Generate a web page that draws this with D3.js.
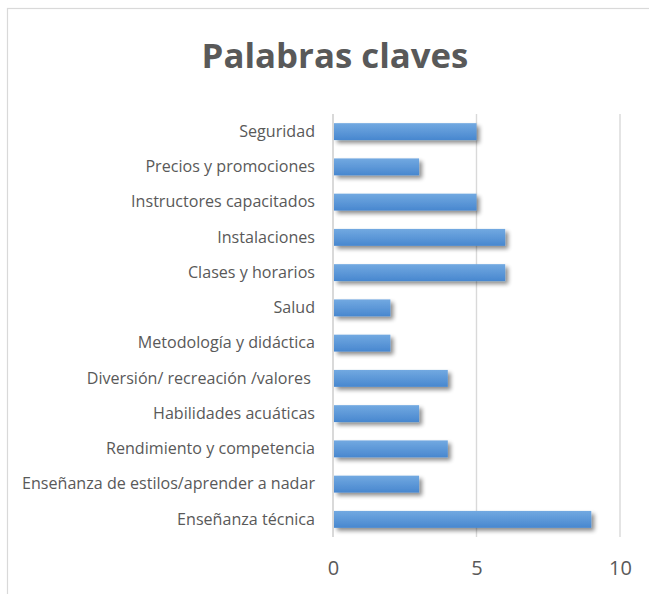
<!DOCTYPE html>
<html>
<head>
<meta charset="utf-8">
<script src="https://cdn.jsdelivr.net/npm/d3@7"></script>
<style>
  html, body { margin: 0; padding: 0; background: #fff; }
  svg { display: block; }
  .ylab text { white-space: pre; }
</style>
</head>
<body>
<svg id="chart" width="649" height="594"></svg>
<script>
const title = "Palabras claves";
const categories = [
  "Seguridad",
  "Precios y promociones",
  "Instructores capacitados",
  "Instalaciones",
  "Clases y horarios",
  "Salud",
  "Metodología y didáctica",
  "Diversión/ recreación /valores ",
  "Habilidades acuáticas",
  "Rendimiento y competencia",
  "Enseñanza de estilos/aprender a nadar",
  "Enseñanza técnica"
];
const values = [5, 3, 5, 6, 6, 2, 2, 4, 3, 4, 3, 9];
const xTicks = [0, 5, 10];

const svg = d3.select("#chart");
const W = 649, H = 594;
const margin = { left: 333, right: 29, top: 114, bottom: 57 };

svg.append("rect")
  .attr("x", 7.5).attr("y", 8.5)
  .attr("width", W + 20).attr("height", H + 20)
  .attr("fill", "#fff").attr("stroke", "#d9d9d9").attr("stroke-width", 1.2);

const defs = svg.append("defs");
const grad = defs.append("linearGradient").attr("id", "barGrad")
  .attr("x1", 0).attr("y1", 0).attr("x2", 0).attr("y2", 1);
grad.append("stop").attr("offset", "0%").attr("stop-color", "#72a9e1");
grad.append("stop").attr("offset", "100%").attr("stop-color", "#4887cf");

const filt = defs.append("filter").attr("id", "shadow")
  .attr("x", "-10%").attr("y", "-50%").attr("width", "130%").attr("height", "250%");
filt.append("feGaussianBlur").attr("in", "SourceAlpha").attr("stdDeviation", 2.2).attr("result", "blur");
filt.append("feOffset").attr("in", "blur").attr("dx", 2.5).attr("dy", 3).attr("result", "off");
filt.append("feComponentTransfer").attr("in", "off").attr("result", "sh")
  .append("feFuncA").attr("type", "linear").attr("slope", 0.45);
const merge = filt.append("feMerge");
merge.append("feMergeNode").attr("in", "sh");
merge.append("feMergeNode").attr("in", "SourceGraphic");

const x = d3.scaleLinear().domain([0, 10]).range([margin.left, W - margin.right]);
const y = d3.scaleBand().domain(categories)
  .range([margin.top, H - margin.bottom])
  .paddingInner(0.52).paddingOuter(0.26);

// gridlines
svg.append("g").selectAll("line").data(xTicks).join("line")
  .attr("x1", d => x(d)).attr("x2", d => x(d))
  .attr("y1", margin.top).attr("y2", H - margin.bottom)
  .attr("stroke", "#d9d9d9").attr("stroke-width", d => d === 0 ? 2 : 1.4);

// bars
svg.append("g").selectAll("rect").data(categories).join("rect")
  .attr("x", x(0) + 1)
  .attr("y", d => y(d))
  .attr("width", (d, i) => x(values[i]) - x(0) - 1)
  .attr("height", y.bandwidth())
  .attr("fill", "url(#barGrad)")
  .attr("filter", "url(#shadow)");

// category labels
const yAxis = d3.axisLeft(y).tickSize(0).tickPadding(18);
const ga = svg.append("g").attr("class", "ylab").attr("transform", `translate(${x(0)},0)`).call(yAxis);
ga.select(".domain").remove();
ga.selectAll("text")
  .attr("font-family", "'Open Sans', sans-serif")
  .attr("font-size", 16.1)
  .attr("fill", "#595959");

// x axis labels
const xAxis = d3.axisBottom(x).tickValues(xTicks).tickSize(0).tickPadding(24).tickFormat(d3.format("d"));
const gx = svg.append("g").attr("transform", `translate(0,${H - margin.bottom})`).call(xAxis);
gx.select(".domain").remove();
gx.selectAll("text")
  .attr("font-family", "'Open Sans', sans-serif")
  .attr("font-size", 20)
  .attr("fill", "#595959");

// title
svg.append("text")
  .attr("x", 335).attr("y", 68)
  .attr("text-anchor", "middle")
  .attr("font-family", "'Open Sans', sans-serif")
  .attr("font-weight", "bold")
  .attr("font-size", 34.8)
  .attr("fill", "#595959")
  .text(title);
</script>
</body>
</html>
